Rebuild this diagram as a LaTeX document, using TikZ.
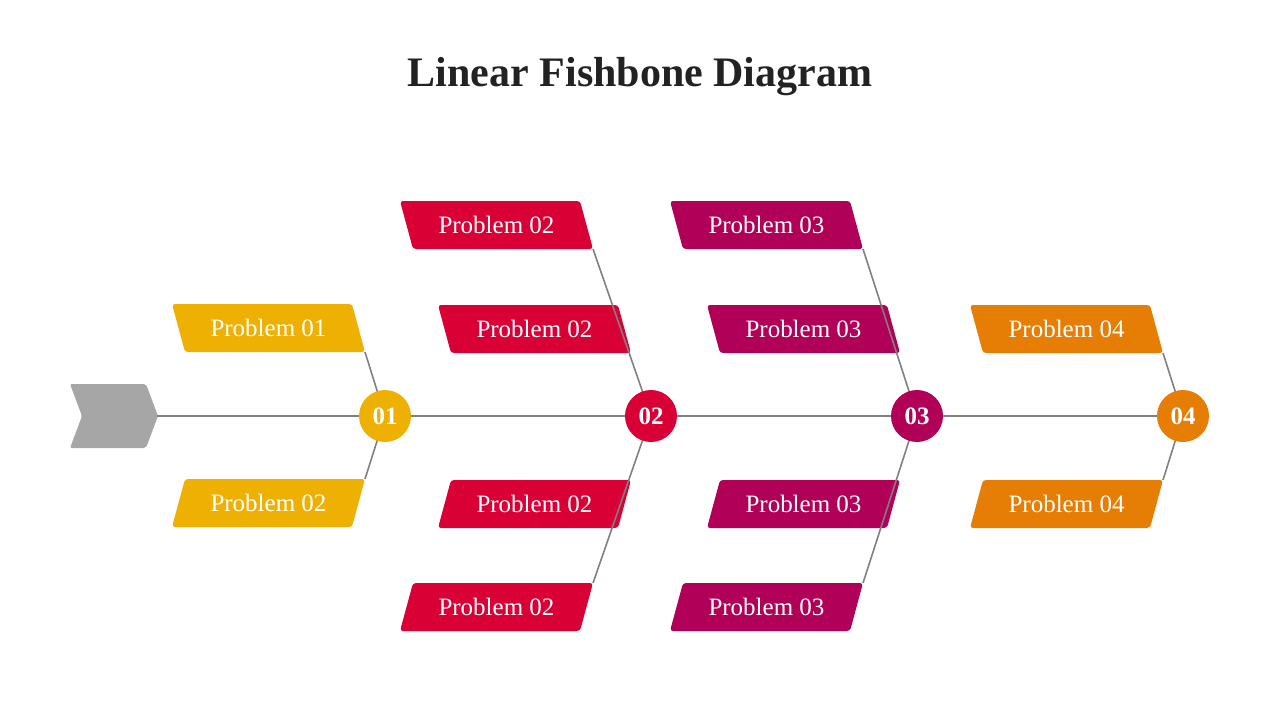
\documentclass[tikz,border=0pt]{standalone}
\usepackage{fontspec}
\setmainfont{Liberation Serif}
\definecolor{cy}{HTML}{EDB003}
\definecolor{cr}{HTML}{D90036}
\definecolor{cp}{HTML}{B10057}
\definecolor{co}{HTML}{E67E05}
\definecolor{cg}{HTML}{A6A6A6}
\definecolor{ln}{HTML}{808080}
\newcommand\boxup[5]{% name, x left top, y top, color, text
  \fill[#4,rounded corners=3pt] (#2,#3) -- (#2+180,#3) -- (#2+193,#3+48) -- (#2+13,#3+48) -- cycle;
  \coordinate (#1) at (#2+193,#3+48);
  \node[txt] (#1t) at (#2+96.5,#3+24) {#5};}
\newcommand\boxdn[5]{% name, x left bottom, y top, color, text
  \fill[#4,rounded corners=3pt] (#2+13,#3) -- (#2+193,#3) -- (#2+180,#3+48) -- (#2,#3+48) -- cycle;
  \coordinate (#1) at (#2+193,#3);
  \node[txt] (#1t) at (#2+96.5,#3+24) {#5};}
\begin{document}
\begin{tikzpicture}[x=1pt,y=-1pt,
  txt/.style={text=white,font=\fontsize{25}{25}\selectfont},
  num/.style={circle,minimum size=52pt,inner sep=0pt,text=white,font=\fontsize{25}{25}\selectfont\bfseries},
  bone/.style={ln,line width=2pt}]
\useasboundingbox (0,0) rectangle (1280,720);
\node[font=\fontsize{42}{42}\selectfont\bfseries,text={rgb,255:red,34;green,34;blue,34}] (title) at (640,77) {Linear Fishbone Diagram};
\fill[cg,rounded corners=2pt] (70,384) -- (146,384) -- (158,416) -- (146,448) -- (70,448) -- (82,416) -- cycle;
\coordinate (tail) at (157,416);
\coordinate (head) at (1183,416);
\draw[bone] (tail) -- (head);
\boxup{a1}{172}{304}{cy}{Problem 01}
\boxdn{a2}{172}{479}{cy}{Problem 02}
\boxup{b1}{400}{201}{cr}{Problem 02}
\boxup{b2}{438}{305}{cr}{Problem 02}
\boxdn{b3}{438}{480}{cr}{Problem 02}
\boxdn{b4}{400}{583}{cr}{Problem 02}
\boxup{c1}{670}{201}{cp}{Problem 03}
\boxup{c2}{707}{305}{cp}{Problem 03}
\boxdn{c3}{707}{480}{cp}{Problem 03}
\boxdn{c4}{670}{583}{cp}{Problem 03}
\boxup{d1}{970}{305}{co}{Problem 04}
\boxdn{d2}{970}{480}{co}{Problem 04}
\coordinate (n1c) at (385,416);
\coordinate (n2c) at (651,416);
\coordinate (n3c) at (917,416);
\coordinate (n4c) at (1183,416);
\draw[bone,line width=1.6pt] (a1) -- (n1c) -- (a2);
\draw[bone,line width=1.6pt] (b1) -- (n2c) -- (b4);
\draw[bone,line width=1.6pt] (c1) -- (n3c) -- (c4);
\draw[bone,line width=1.6pt] (d1) -- (n4c) -- (d2);
\node[num,fill=cy] (n1) at (n1c) {01};
\node[num,fill=cr] (n2) at (n2c) {02};
\node[num,fill=cp] (n3) at (n3c) {03};
\node[num,fill=co] (n4) at (n4c) {04};
\end{tikzpicture}
\end{document}
